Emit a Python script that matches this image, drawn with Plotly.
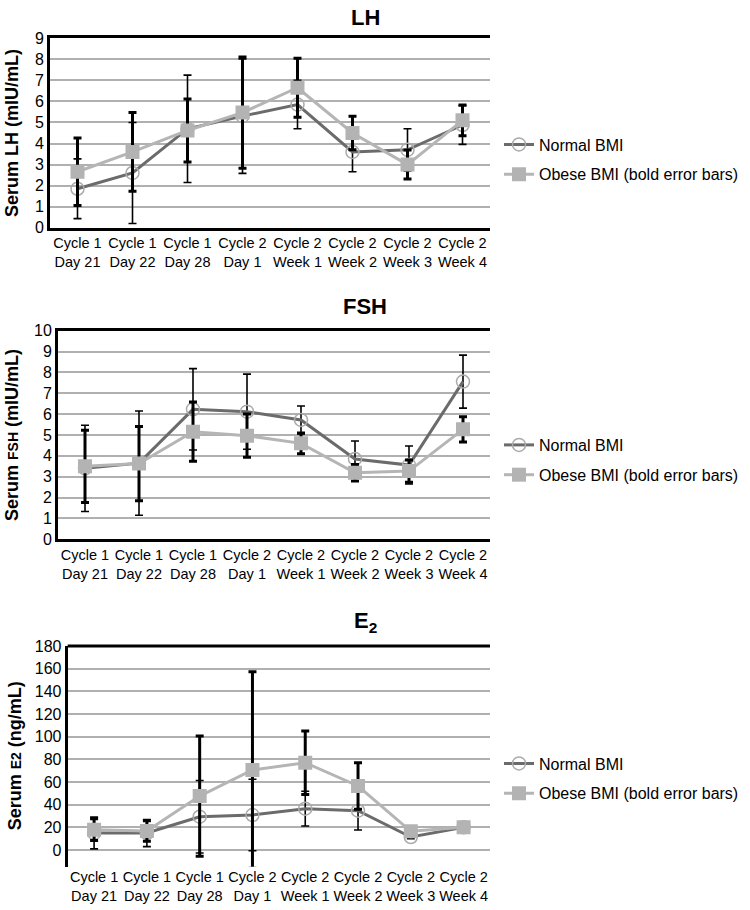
import plotly.graph_objects as go

categories = ["Cycle 1<br>Day 21", "Cycle 1<br>Day 22", "Cycle 1<br>Day 28", "Cycle 2<br>Day 1",
              "Cycle 2<br>Week 1", "Cycle 2<br>Week 2", "Cycle 2<br>Week 3", "Cycle 2<br>Week 4"]

lh_normal = [1.85, 2.6, 4.7, 5.3, 5.85, 3.6, 3.7, 4.88]
lh_normal_err = [1.42, 2.4, 2.55, 2.72, 1.15, 0.94, 1.0, 0.92]
lh_obese = [2.66, 3.6, 4.62, 5.47, 6.65, 4.5, 3.0, 5.1]
lh_obese_err = [1.6, 1.87, 1.5, 2.64, 1.4, 0.8, 0.69, 0.73]

fsh_normal = [3.4, 3.65, 6.23, 6.12, 5.72, 3.85, 3.56, 7.56]
fsh_normal_err = [2.07, 2.5, 1.95, 1.8, 0.67, 0.86, 0.91, 1.27]
fsh_obese = [3.5, 3.63, 5.16, 4.97, 4.6, 3.19, 3.27, 5.27]
fsh_obese_err = [1.73, 1.78, 1.42, 1.04, 0.5, 0.4, 0.53, 0.6]

e2_normal = [15, 15, 29.4, 30.9, 36.5, 34.7, 11.5, 20]
e2_normal_err = [14, 12, 32, 31.5, 15.3, 17, 1.5, 1]
e2_obese = [18, 16.8, 47.6, 70.6, 77, 56.5, 16.5, 20]
e2_obese_err = [9.5, 9, 53, 86.7, 28, 20.5, 1.5, 1]

series_names = ["Normal BMI", "Obese BMI (bold error bars)"]

FONT = "Liberation Sans, Arial, Helvetica, sans-serif"
W, H = 750, 910

def px(x):
    return x / W

def py(y):
    return 1 - y / H

panels = [
    dict(normal=lh_normal, nerr=lh_normal_err, obese=lh_obese, oerr=lh_obese_err,
         xd=[px(50), px(490)], yd=[py(227.7), py(38.3)], yr=[0, 9], dt=1,
         title="<b>LH</b>", ty=17, ytitle="<b>Serum LH (mIU/mL)</b>", ytx=12, bottom=True,
         legy=py(159.5)),
    dict(normal=fsh_normal, nerr=fsh_normal_err, obese=fsh_obese, oerr=fsh_obese_err,
         xd=[px(58), px(490)], yd=[py(539.3), py(330.7)], yr=[0, 10], dt=1,
         title="<b>FSH</b>", ty=306,
         ytitle="<b>Serum <span style='font-size:14px'>FSH</span> (mIU/mL)</b>", ytx=12, bottom=True,
         legy=py(460)),
    dict(normal=e2_normal, nerr=e2_normal_err, obese=e2_obese, oerr=e2_obese_err,
         xd=[px(67.7), px(490)], yd=[py(866.7), py(646)], yr=[-14.7, 180], dt=20,
         title="<b>E<sub>2</sub></b>", ty=622,
         ytitle="<b>Serum <span style='font-size:14px'>E2</span> (ng/mL)</b>", ytx=15, bottom=False,
         legy=py(778.5)),
]

fig = go.Figure()
layout = dict(width=W, height=H, margin=dict(l=0, r=0, t=0, b=0, autoexpand=False),
              paper_bgcolor="white", plot_bgcolor="white",
              font=dict(family=FONT, color="black", size=15),
              showlegend=True)
annotations = []
shapes = []

for i, p in enumerate(panels):
    k = "" if i == 0 else str(i + 1)
    xa, ya = "x" + k, "y" + k
    leg = "legend" + k
    fig.add_trace(go.Scatter(
        x=categories, y=p["normal"], name=series_names[0], xaxis=xa, yaxis=ya, legend=leg,
        legendgroup="n" + k, mode="lines+markers",
        line=dict(color="#6b6b6b", width=3),
        marker=dict(symbol="circle-open", size=13, color="#ababab", line=dict(width=1.5)),
        error_y=dict(type="data", array=p["nerr"], visible=True, color="black", thickness=1.6, width=4),
    ))
    fig.add_trace(go.Scatter(
        x=categories, y=p["obese"], name=series_names[1], xaxis=xa, yaxis=ya, legend=leg,
        legendgroup="o" + k, mode="lines+markers",
        line=dict(color="#b5b5b5", width=3),
        marker=dict(symbol="square", size=14, color="#b3b3b3"),
        error_y=dict(type="data", array=p["oerr"], visible=True, color="black", thickness=3, width=4),
    ))
    layout["xaxis" + k] = dict(domain=p["xd"], anchor=ya, type="category", range=[-0.5, 7.5],
                               showline=p["bottom"], mirror=p["bottom"], linecolor="black", linewidth=3,
                               ticks="", showgrid=False, tickfont=dict(size=14.5, family=FONT),
                               automargin=False, fixedrange=True)
    layout["yaxis" + k] = dict(domain=p["yd"], anchor=xa, range=p["yr"], dtick=p["dt"], tick0=0,
                               showline=True, linecolor="black", linewidth=3, ticks="",
                               showgrid=True, gridcolor="#b0b0b0", gridwidth=1.5, zeroline=False,
                               automargin=False, tickfont=dict(size=16, family=FONT))
    layout[leg] = dict(x=px(499), xanchor="left", y=p["legy"], yanchor="middle",
                       font=dict(size=16, family=FONT), tracegroupgap=6, bgcolor="rgba(0,0,0,0)")
    annotations.append(dict(text=p["title"], x=px(365), y=py(p["ty"]), xref="paper", yref="paper",
                            showarrow=False, font=dict(size=22, family=FONT), xanchor="center",
                            yanchor="middle"))
    annotations.append(dict(text=p["ytitle"], x=px(p["ytx"]), y=(p["yd"][0] + p["yd"][1]) / 2,
                            xref="paper", yref="paper", showarrow=False, textangle=-90,
                            font=dict(size=18, family=FONT), xanchor="center", yanchor="middle"))
    if not p["bottom"]:
        shapes.append(dict(type="line", xref=xa + " domain", yref=ya + " domain", x0=0, x1=1, y0=1, y1=1,
                           line=dict(color="black", width=3)))

layout["annotations"] = annotations
layout["shapes"] = shapes
fig.update_layout(**layout)
fig.write_html("out.html", config={"displayModeBar": False},
               post_script="document.body.style.margin='0px';")
